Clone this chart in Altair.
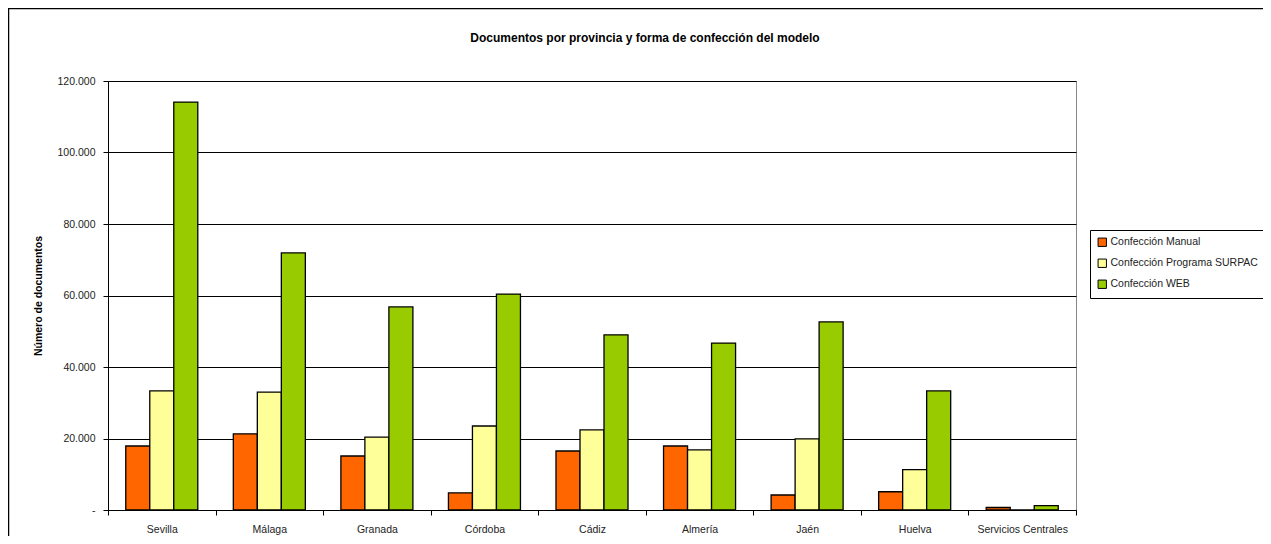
import altair as alt
import pandas as pd

titulo = "Documentos por provincia y forma de confección del modelo"
provincias = ["Sevilla", "Málaga", "Granada", "Córdoba", "Cádiz", "Almería",
              "Jaén", "Huelva", "Servicios Centrales"]
series = ["Confección Manual", "Confección Programa SURPAC", "Confección WEB"]
manual = [17900, 21300, 15100, 4800, 16500, 17900, 4200, 5100, 700]
surpac = [33300, 33000, 20400, 23500, 22400, 16800, 19900, 11300, 0]
web = [114100, 71900, 56800, 60400, 49000, 46700, 52600, 33300, 1200]
colores = ["#FF6600", "#FFFF99", "#99CC00"]
y_ticks = [0, 20000, 40000, 60000, 80000, 100000, 120000]

rows = []
for i, p in enumerate(provincias):
    for s, vals in zip(series, [manual, surpac, web]):
        rows.append({"provincia": p, "serie": s, "valor": vals[i]})
df = pd.DataFrame(rows)

FONT = "Liberation Sans"
W, H = 968, 429

bars = alt.Chart(df).mark_bar(stroke="black", strokeWidth=1.3).encode(
    x=alt.X("provincia:N", sort=provincias,
            scale=alt.Scale(paddingInner=0, paddingOuter=0),
            axis=alt.Axis(title=None, labelAngle=0, tickBand="extent",
                          domainColor="black", tickColor="black", tickSize=5,
                          labelPadding=9, labelFontSize=10.5, labelColor="#222",
                          labelFont=FONT, grid=False)),
    xOffset=alt.XOffset("serie:N", sort=series,
                        scale=alt.Scale(paddingInner=0, paddingOuter=0.74)),
    y=alt.Y("valor:Q", scale=alt.Scale(domain=[0, 120000], nice=False),
            axis=alt.Axis(values=y_ticks,
                          labelExpr="datum.value == 0 ? '-' : replace(format(datum.value, ','), ',', '.')",
                          title="Número de documentos", titleFont=FONT,
                          titleFontSize=10.5, titleFontWeight="bold",
                          titleAngle=-90, titleX=-70, titleY=H / 2,
                          titleAlign="center", titleBaseline="middle",
                          titleColor="black",
                          domainColor="black", tickColor="black", tickSize=5,
                          labelPadding=8, labelFontSize=10.5, labelColor="#222",
                          labelFont=FONT, gridColor="black", gridWidth=1)),
    color=alt.Color("serie:N", sort=series,
                    scale=alt.Scale(domain=series, range=colores),
                    legend=alt.Legend(title=None, orient="none", legendX=982,
                                      legendY=149, strokeColor="black",
                                      fillColor="white", padding=7,
                                      labelFont=FONT, labelFontSize=10.5,
                                      labelColor="#222", rowPadding=8,
                                      symbolType="square", symbolSize=70,
                                      symbolStrokeColor="black",
                                      symbolStrokeWidth=1, labelOffset=3)),
)

frame = alt.Chart(pd.DataFrame({"a": [0]})).mark_rect(
    fillOpacity=0, stroke="black", strokeWidth=1.5).encode(
    x=alt.value(-99.5), x2=alt.value(1180), y=alt.value(-72.5), y2=alt.value(480))

title_mark = alt.Chart(pd.DataFrame({"t": [titulo]})).mark_text(
    font=FONT, fontSize=12, fontWeight="bold", color="black",
    align="center", baseline="alphabetic").encode(
    text="t:N", x=alt.value(537), y=alt.value(-39))

chart = alt.layer(bars, frame, title_mark).properties(
    width=W, height=H,
    autosize="none",
    padding={"left": 100, "top": 73, "right": 187, "bottom": 26},
).configure_view(stroke="#888", strokeWidth=1)

chart.save("out.html", embed_options={"renderer": "svg", "actions": False})
